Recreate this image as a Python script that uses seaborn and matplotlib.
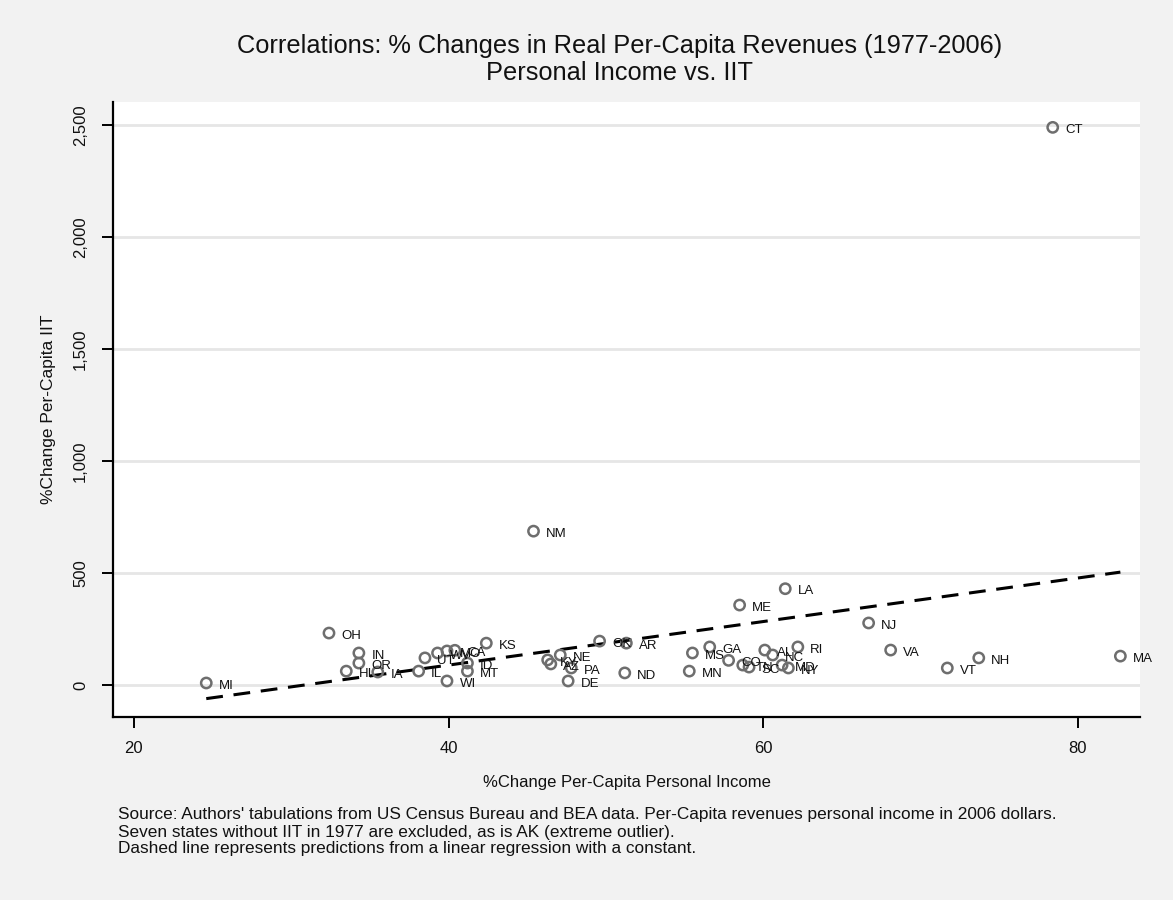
import matplotlib
matplotlib.use("Agg")
import matplotlib.pyplot as plt
import matplotlib.ticker as mticker
import numpy as np
import pandas as pd
import seaborn as sns

# % change in real per-capita personal income and per-capita individual income tax (1977-2006)
states = ["MI", "OH", "IN", "OR", "HI", "IA", "IL", "UT", "WV", "MO", "CA", "ID",
          "MT", "WI", "KS", "KY", "AZ", "NE", "PA", "DE", "NM", "OK", "AR", "ND",
          "MS", "MN", "GA", "CO", "TN", "SC", "AL", "NC", "MD", "NY", "RI", "ME",
          "LA", "NJ", "VA", "VT", "NH", "CT", "MA"]
pct_income = [24.6, 32.4, 34.3, 34.3, 33.5, 35.5, 38.1, 38.5, 39.3, 39.9, 40.4, 41.2,
              41.2, 39.9, 42.4, 46.3, 46.5, 47.1, 47.8, 47.6, 45.4, 49.6, 51.3, 51.2,
              55.5, 55.3, 56.6, 57.8, 58.7, 59.1, 60.1, 60.6, 61.2, 61.6, 62.2, 58.5,
              61.4, 66.7, 68.1, 71.7, 73.7, 78.4, 82.7]
pct_iit = [9, 232, 143, 98, 62, 58, 62, 121, 143, 152, 155, 98,
           62, 18, 187, 112, 94, 134, 76, 18, 687, 196, 187, 54,
           143, 62, 170, 110, 89, 80, 156, 134, 89, 76, 170, 357,
           430, 277, 156, 76, 121, 2490, 129]

y_ticks = [0, 500, 1000, 1500, 2000, 2500]
x_ticks = [20, 40, 60, 80]

df = pd.DataFrame({"state": states, "income": pct_income, "iit": pct_iit})

sns.set_theme(style="white")
plt.rcParams["font.family"] = ["Liberation Sans", "DejaVu Sans"]

bg = "#f2f2f2"
ink = "#111111"
fig = plt.figure(figsize=(11.73, 9.0), dpi=100, facecolor=bg)
ax = fig.add_axes([0.0963, 0.2033, 0.8756, 0.6833])
ax.set_facecolor("white")

# fitted line from a simple OLS regression
sns.regplot(data=df, x="income", y="iit", ax=ax, scatter=False, ci=None,
            truncate=True,
            line_kws=dict(color="black", lw=2.2, ls=(0, (5.5, 3.5))))

sns.scatterplot(data=df, x="income", y="iit", ax=ax, marker="o", s=55,
                facecolor="none", edgecolor="#6e6e6e", linewidth=1.8, zorder=3)

for name, xv, yv in zip(states, pct_income, pct_iit):
    ax.annotate(name, (xv, yv), xytext=(9, -2), textcoords="offset points",
                ha="left", va="center", fontsize=9.5, color=ink, zorder=4)

ax.set_xlim(18.67, 83.95)
ax.set_ylim(-143, 2603)
ax.set_xticks(x_ticks)
ax.set_yticks(y_ticks)
ax.yaxis.set_major_formatter(mticker.FuncFormatter(lambda v, p: f"{int(v):,}"))
ax.grid(axis="y", color="#e6e6e6", lw=2)
ax.grid(axis="x", visible=False)
ax.set_axisbelow(True)

for side in ("top", "right"):
    ax.spines[side].set_visible(False)
for side in ("left", "bottom"):
    ax.spines[side].set_color("black")
    ax.spines[side].set_linewidth(1.6)

ax.tick_params(axis="both", which="major", length=8, width=1.4, color="black",
               labelsize=12, labelcolor=ink, direction="out", left=True, bottom=True)
ax.tick_params(axis="y", pad=10)
ax.tick_params(axis="x", pad=9)
for lab in ax.get_yticklabels():
    lab.set_rotation(90)
    lab.set_va("center")

ax.set_xlabel("%Change Per-Capita Personal Income", fontsize=12, color=ink, labelpad=14)
ax.set_ylabel("%Change Per-Capita IIT", fontsize=12.5, color=ink, labelpad=12)

fig.text(0.5285, 0.949, "Correlations: % Changes in Real Per-Capita Revenues (1977-2006)",
         ha="center", va="center", fontsize=18.3, color=ink)
fig.text(0.5285, 0.919, "Personal Income vs. IIT",
         ha="center", va="center", fontsize=18.3, color=ink)

notes = ["Source: Authors' tabulations from US Census Bureau and BEA data. Per-Capita revenues personal income in 2006 dollars.",
         "Seven states without IIT in 1977 are excluded, as is AK (extreme outlier).",
         "Dashed line represents predictions from a linear regression with a constant."]
for i, line in enumerate(notes):
    fig.text(118 / 1173, 1 - (815 + [0, 18, 34][i]) / 900, line,
             ha="left", va="center", fontsize=12.4, color=ink)

fig.savefig("out.png", dpi=100, facecolor=bg)
